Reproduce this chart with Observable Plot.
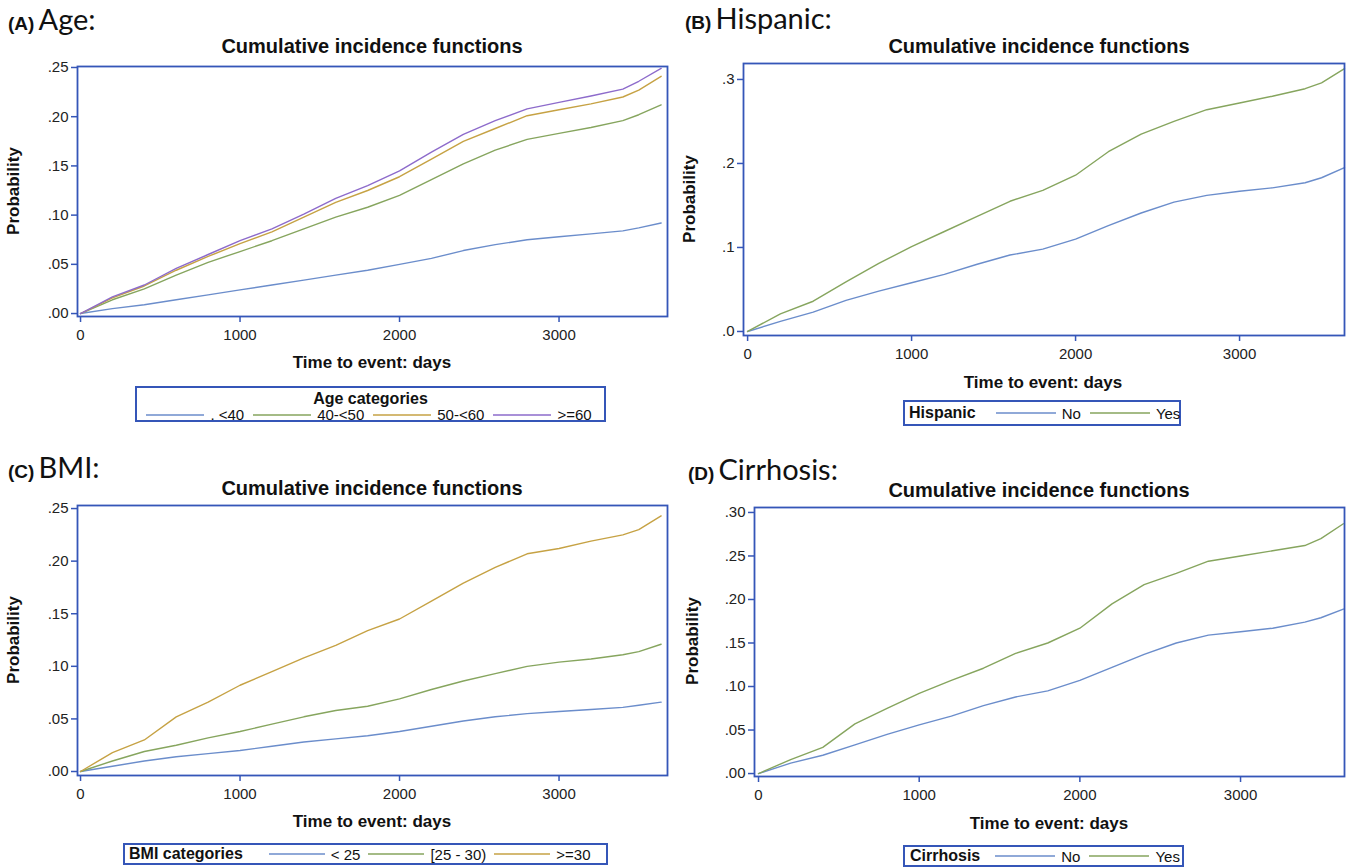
<!DOCTYPE html>
<html><head><meta charset="utf-8">
<script src="https://cdn.jsdelivr.net/npm/d3@7"></script>
<script src="https://cdn.jsdelivr.net/npm/@observablehq/plot@0.6"></script>
<style>
body{margin:0;background:#fff;}
#root{position:relative;width:1346px;height:867px;overflow:hidden;font-family:"Liberation Sans",Arial,sans-serif;color:#111;}
.plab{position:absolute;font-family:Lato,"Open Sans",sans-serif;white-space:nowrap;line-height:36px;}
.plab b{font-size:19px;font-weight:700;font-family:"Liberation Sans",Arial,sans-serif;}
.plab span{font-size:29px;}
.ctr{position:absolute;white-space:nowrap;transform:translateX(-50%);line-height:20px;}
.title{font-weight:bold;font-size:20px;}
.xlab{font-weight:bold;font-size:17px;}
.ylab{position:absolute;width:200px;height:20px;line-height:20px;text-align:center;font-weight:bold;font-size:17px;transform:rotate(-90deg);}
.leg{position:absolute;border:2px solid #3556b8;box-sizing:border-box;font-size:15px;}
.leg .row{display:flex;align-items:center;white-space:nowrap;}
.leg svg{display:block;}
.leg .lt{font-weight:bold;font-size:16px;}
</style></head>
<body><div id="root"></div>
<script>
// ---------- data ----------
const days = [0,200,400,600,800,1000,1200,1400,1600,1800,2000,2200,2400,2600,2800,3000,3200,3400,3500,3640];

const ageCats = [". <40","40-<50","50-<60",">=60"];
const ageUnder40 = [0,.005,.009,.014,.019,.024,.029,.034,.039,.044,.050,.056,.064,.070,.075,.078,.081,.084,.087,.092];
const age40to50  = [0,.014,.025,.039,.052,.063,.074,.086,.098,.108,.120,.136,.152,.166,.177,.183,.189,.196,.202,.212];
const age50to60  = [0,.016,.028,.044,.058,.071,.083,.098,.113,.125,.139,.157,.175,.188,.201,.207,.213,.220,.227,.241];
const age60plus  = [0,.017,.029,.046,.060,.074,.086,.101,.117,.130,.145,.164,.182,.196,.208,.2145,.221,.228,.236,.249];

const hispCats = ["No","Yes"];
const hispNo  = [0,.012,.023,.037,.048,.058,.068,.080,.091,.098,.110,.126,.141,.154,.162,.167,.171,.177,.183,.195];
const hispYes = [0,.021,.036,.059,.081,.101,.119,.137,.155,.168,.186,.214,.235,.250,.264,.272,.280,.289,.296,.313];

const bmiCats = ["< 25","[25 - 30)",">=30"];
const bmiUnder25 = [0,.005,.010,.014,.017,.020,.024,.028,.031,.034,.038,.043,.048,.052,.055,.057,.059,.061,.063,.066];
const bmi25to30  = [0,.010,.019,.025,.032,.038,.045,.052,.058,.062,.069,.078,.086,.093,.100,.104,.107,.111,.114,.121];
const bmi30plus  = [0,.018,.030,.052,.066,.082,.095,.108,.120,.134,.145,.162,.179,.194,.207,.212,.219,.225,.230,.243];

const cirrCats = ["No","Yes"];
const cirrNo  = [0,.012,.021,.033,.045,.056,.066,.078,.088,.095,.107,.122,.137,.150,.159,.163,.167,.174,.179,.189];
const cirrYes = [0,.016,.030,.057,.075,.092,.107,.121,.138,.150,.167,.195,.217,.230,.244,.250,.256,.262,.270,.287];

const xTicks = [0,1000,2000,3000];
const xTickLabels = ["0","1000","2000","3000"];
const yTicksA = [0,.05,.10,.15,.20,.25];
const yLabelsA = [".00",".05",".10",".15",".20",".25"];
const yTicksB = [0,.1,.2,.3];
const yLabelsB = [".0",".1",".2",".3"];
const yTicksC = [0,.05,.10,.15,.20,.25];
const yLabelsC = [".00",".05",".10",".15",".20",".25"];
const yTicksD = [0,.05,.10,.15,.20,.25,.30];
const yLabelsD = [".00",".05",".10",".15",".20",".25",".30"];

const BLUE="#6b8dcb", GREEN="#86a55e", GOLD="#c6a244", PURPLE="#8d6bcb";
const FRAME="#3556b8";

// ---------- helpers ----------
const root = document.getElementById("root");
function add(html){ const d=document.createElement("div"); d.innerHTML=html; while(d.firstChild) root.appendChild(d.firstChild); }
const esc = s => s.replace(/&/g,"&amp;").replace(/</g,"&lt;").replace(/>/g,"&gt;");

function panel({series, names, colors, xDomain, yDomain, yTicks, yLabels, left, top, width, height, ml, mr, mt, mb}){
  const rows = [];
  series.forEach((s,k)=>s.forEach((v,i)=>rows.push({t:days[i], p:v, g:names[k]})));
  const chart = Plot.plot({
    width, height, marginLeft:ml, marginRight:mr, marginTop:mt, marginBottom:mb,
    x:{domain:xDomain}, y:{domain:yDomain},
    color:{domain:names, range:colors},
    style:{fontFamily:"'Liberation Sans', Arial, sans-serif", fontSize:"15px", background:"transparent", overflow:"visible"},
    marks:[
      Plot.axisY({ticks:yTicks, tickSize:6, tickPadding:3, stroke:FRAME, fill:"#222", strokeWidth:1.5, label:null,
                  tickFormat:d=>yLabels[yTicks.indexOf(d)]}),
      Plot.axisX({ticks:xTicks, tickSize:6, tickPadding:7, stroke:FRAME, fill:"#222", strokeWidth:1.5, label:null,
                  tickFormat:d=>xTickLabels[xTicks.indexOf(d)]}),
      Plot.lineY(rows, {x:"t", y:"p", z:"g", stroke:"g", strokeWidth:1.4}),
      Plot.frame({stroke:FRAME, strokeWidth:1.8})
    ]
  });
  chart.style.position="absolute"; chart.style.left=left+"px"; chart.style.top=top+"px";
  root.appendChild(chart);
}

function key(color, w){
  return `<svg width="${w}" height="6"><line x1="0" x2="${w}" y1="3" y2="3" stroke="${color}" stroke-width="1.6"/></svg>`;
}

function legend({title, stacked, names, colors, left, top, width, height, keyW, gapTitle, gapItem, pad}){
  const gi = gapItem ?? 9;
  const items = names.map((n,i)=>`<div style="margin-left:${i===0&&!stacked?gapTitle:gi}px;margin-right:6px">${key(colors[i],keyW)}</div><span>${esc(n)}</span>`).join("");
  let inner;
  if(stacked){
    inner = `<div style="text-align:center;line-height:19px;margin-top:1px" class="lt">${esc(title)}</div><div class="row" style="justify-content:center;line-height:14px;margin-left:-12px">${items}</div>`;
  } else {
    inner = `<div class="row" style="height:100%;padding-left:${pad}px"><span class="lt">${esc(title)}</span>${items}</div>`;
  }
  add(`<div class="leg" style="left:${left}px;top:${top}px;width:${width}px;height:${height}px">${inner}</div>`);
}

// ---------- panel A ----------
add(`<div class="plab" style="left:8px;top:1px"><b>(A)</b> <span>Age:</span></div>`);
add(`<div class="ctr title" style="left:372px;top:36px">Cumulative incidence functions</div>`);
add(`<div class="ylab" style="left:-86px;top:181px">Probability</div>`);
add(`<div class="ctr xlab" style="left:372px;top:353px">Time to event: days</div>`);
panel({series:[ageUnder40,age40to50,age50to60,age60plus], names:ageCats, colors:[BLUE,GREEN,GOLD,PURPLE],
  xDomain:[-19,3680], yDomain:[-0.003,0.251], yTicks:yTicksA, yLabels:yLabelsA,
  left:0, top:56, width:680, height:330, ml:77, mr:13, mt:10, mb:70});
legend({title:"Age categories", stacked:true, names:ageCats, colors:[BLUE,GREEN,GOLD,PURPLE],
  left:135, top:386, width:471, height:36, keyW:58});

// ---------- panel B ----------
add(`<div class="plab" style="left:685px;top:0px"><b>(B)</b> <span>Hispanic:</span></div>`);
add(`<div class="ctr title" style="left:1039px;top:36px">Cumulative incidence functions</div>`);
add(`<div class="ylab" style="left:590px;top:189px">Probability</div>`);
add(`<div class="ctr xlab" style="left:1043px;top:373px">Time to event: days</div>`);
panel({series:[hispNo,hispYes], names:hispCats, colors:[BLUE,GREEN],
  xDomain:[-25,3640], yDomain:[-0.0048,0.319], yTicks:yTicksB, yLabels:yLabelsB,
  left:670, top:56, width:676, height:330, ml:73, mr:2, mt:7, mb:51});
legend({title:"Hispanic", stacked:false, names:hispCats, colors:[BLUE,GREEN],
  left:903, top:400, width:278, height:26, keyW:60, gapTitle:20, pad:4});

// ---------- panel C ----------
add(`<div class="plab" style="left:8px;top:449px"><b>(C)</b> <span>BMI:</span></div>`);
add(`<div class="ctr title" style="left:372px;top:478px">Cumulative incidence functions</div>`);
add(`<div class="ylab" style="left:-86px;top:630px">Probability</div>`);
add(`<div class="ctr xlab" style="left:372px;top:812px">Time to event: days</div>`);
panel({series:[bmiUnder25,bmi25to30,bmi30plus], names:bmiCats, colors:[BLUE,GREEN,GOLD],
  xDomain:[-19,3680], yDomain:[-0.0038,0.2529], yTicks:yTicksC, yLabels:yLabelsC,
  left:0, top:495, width:680, height:330, ml:77, mr:13, mt:10, mb:50});
legend({title:"BMI categories", stacked:false, names:bmiCats, colors:[BLUE,GREEN,GOLD],
  left:123, top:843, width:485, height:22, keyW:56, gapTitle:26, gapItem:8, pad:4});

// ---------- panel D ----------
add(`<div class="plab" style="left:688px;top:451px"><b>(D)</b> <span>Cirrhosis:</span></div>`);
add(`<div class="ctr title" style="left:1039px;top:480px">Cumulative incidence functions</div>`);
add(`<div class="ylab" style="left:593px;top:631px">Probability</div>`);
add(`<div class="ctr xlab" style="left:1049px;top:814px">Time to event: days</div>`);
panel({series:[cirrNo,cirrYes], names:cirrCats, colors:[BLUE,GREEN],
  xDomain:[-25,3647], yDomain:[-0.0034,0.3057], yTicks:yTicksD, yLabels:yLabelsD,
  left:670, top:495, width:676, height:330, ml:84, mr:2, mt:12, mb:49});
legend({title:"Cirrhosis", stacked:false, names:cirrCats, colors:[BLUE,GREEN],
  left:903, top:845, width:281, height:22, keyW:60, gapTitle:15, pad:5});
</script></body></html>
